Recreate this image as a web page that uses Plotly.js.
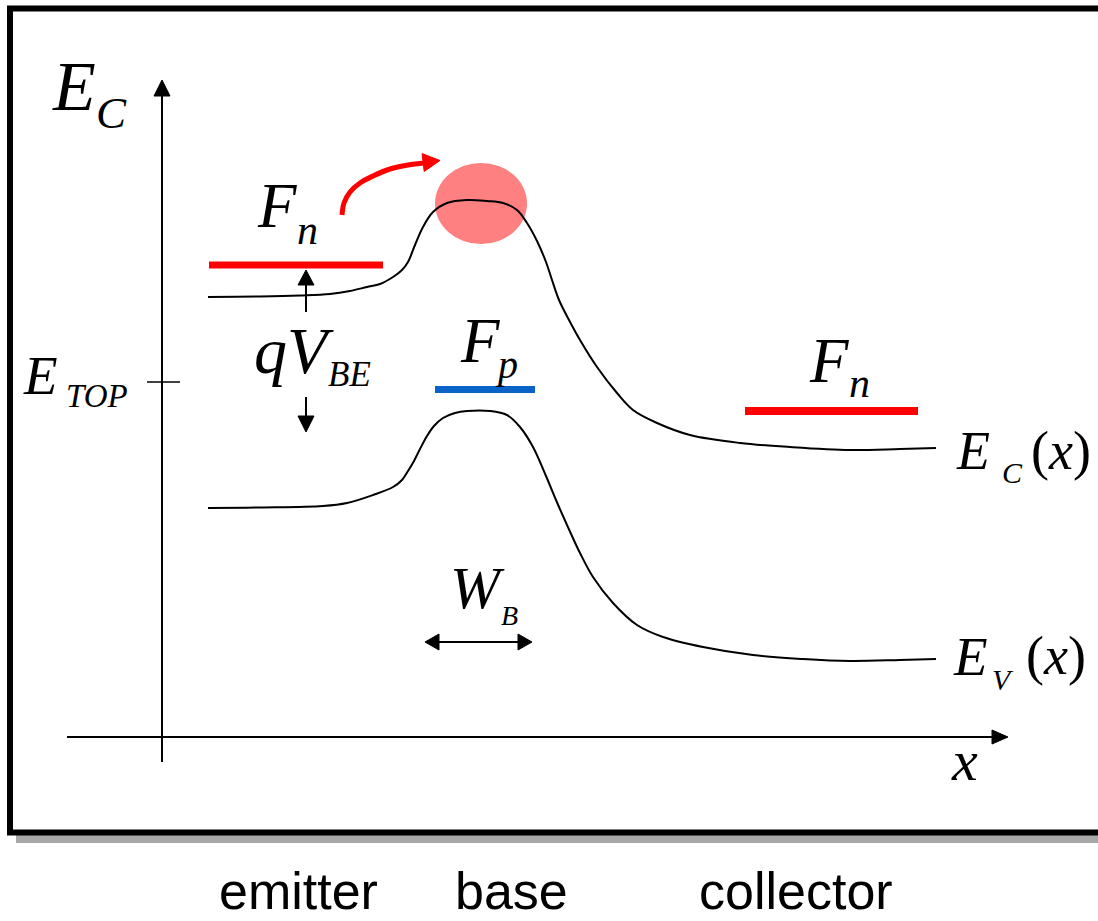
<!DOCTYPE html>
<html>
<head>
<meta charset="utf-8">
<script src="https://cdn.plot.ly/plotly-3.0.1.min.js"></script>
<style>html,body{margin:0;padding:0;background:#fff;}#chart{width:1098px;height:921px;}</style>
</head>
<body>
<div id="chart"></div>
<script>
// ---- Data (diagram coordinates, y grows downward) ----
const ecX = [208,260,300,330,350,367,380,393,402,408,415,423,433,447,467,487,503,517,527,537,546,552,559,569,580,597,617,633,657,690,740,790,850,900,936];
const ecY = [297,296.5,295.5,294,291,287,284,277,270,262,245,227,212,203,200,201,203,210,223,241,262,280,300,320,340,367,393,410,423,435,443,447,450,449,448];
const evX = [208,260,323,347,373,393,402,408,414,420,427,434,443,455,467,490,507,520,533,546,556,563,572,580,593,613,637,663,703,753,803,850,900,936];
const evY = [508,507.5,506,503,495,487,480,471,461,449,436,426,418,413,411,411,415,427,447,476,500,516,536,553,577,603,625,637,647,655,659,661,660,659];
const fnLeftX = [209,383], fnLeftY = [265,265];
const fpX = [435,535], fpY = [389.5,389.5];
const fnRightX = [745,918], fnRightY = [411,411];
const arcX = [342,344,350,360,373,390,408,425];
const arcY = [215,203,192,183,176,169,165,163];
const regionLabels = ['emitter','base','collector'];
const regionX = [298,511,796];

// ---- helpers ----
function head(tx, ty, dx, dy, len, hw){
  const n = Math.hypot(dx,dy); dx/=n; dy/=n;
  const bx = tx-dx*len, by = ty-dy*len;
  const px = -dy, py = dx;
  return {x:[tx,bx+px*hw,bx-px*hw,tx], y:[ty,by+py*hw,by-py*hw,ty]};
}
const traces = [];
function line(x,y,color,width,shape){
  traces.push({type:'scatter',mode:'lines',x:x,y:y,hoverinfo:'skip',
    line:{color:color,width:width,shape:shape||'linear',smoothing:1}});
}
function tri(h,color){
  traces.push({type:'scatter',mode:'lines',x:h.x,y:h.y,fill:'toself',fillcolor:color,
    hoverinfo:'skip',line:{color:color,width:1}});
}

// axes
line([162,162],[762,94],'#000',2);
tri(head(162,80,0,-1,16,8),'#000');
line([67,994],[737,737],'#000',2);
tri(head(1008,737,1,0,16,7),'#000');
line([147,180],[382,382],'#000',1.5);

// band edges
line(ecX,ecY,'#000',2,'spline');
line(evX,evY,'#000',2,'spline');

// quasi-Fermi levels
line(fnLeftX,fnLeftY,'#FF0000',7);
line(fpX,fpY,'#0A64C8',7);
line(fnRightX,fnRightY,'#FF0000',8);

// qV_BE arrows
line([306,306],[312,283],'#000',2);
tri(head(306,270,0,-1,15,8),'#000');
line([306,306],[397,418],'#000',2);
tri(head(306,432,0,1,16,8),'#000');

// W_B double arrow
line([437,520],[642,642],'#000',2);
tri(head(425,642,-1,0,14,8),'#000');
tri(head(532,642,1,0,14,8),'#000');

// red injection arc
line(arcX,arcY,'#FF0000',5,'spline');
tri(head(440,160.5,1,-0.12,17,9),'#FF0000');

// ---- text ----
const serif = 'Liberation Serif';
const ann = [];
function t(txt,x,y,size,family,xa){
  ann.push({text:txt,x:x,y:y,xref:'x',yref:'y',showarrow:false,xanchor:xa||'center',yanchor:'middle',
    borderpad:0,borderwidth:0,font:{family:family||serif,size:size,color:'#000'}});
}
t('<i>E</i>',74,86,70);
t('<i>C</i>',111,113,45);
t('<i>E</i>',40,375,55);
t('<i>TOP</i>',97,396,33);
t('<i>F</i>',277,206,63);
t('<i>n</i>',307,230,42);
t('<i>qV</i>',294,350,66);
t('<i>BE</i>',349,374,35);
t('<i>F</i>',480,341,63);
t('<i>p</i>',506,364,40);
t('<i>F</i>',829,361,63);
t('<i>n</i>',859,383,42);
t('<i>W</i>',477,588,60);
t('<i>B</i>',509,615,28);
t('<i>E</i>',973,451,54);
t('<i>C</i>',1012,472,30);
t('(<i>x</i>)',1061,451,54);
t('<i>E</i>',970,656,55);
t('<i>V</i>',1003,679,30);
t('(<i>x</i>)',1056,656,54);
t('<i>x</i>',964,760,58);
regionLabels.forEach((s,i)=>t(s,regionX[i],891,52,'Liberation Sans'));

const shapes = [
  {type:'rect',xref:'x',yref:'y',x0:16,x1:1250,y0:14,y1:843,fillcolor:'#a8a8a8',line:{width:0},layer:'below'},
  {type:'rect',xref:'x',yref:'y',x0:10,x1:1200,y0:8.5,y1:832.5,fillcolor:'#ffffff',line:{color:'#000',width:6},layer:'below'},
  {type:'circle',xref:'x',yref:'y',x0:435,x1:527,y0:163,y1:244,fillcolor:'#FF8080',line:{width:0},layer:'below'}
];

const layout = {
  width:1098,height:921,margin:{l:0,r:0,t:0,b:0},
  paper_bgcolor:'#fff',plot_bgcolor:'rgba(0,0,0,0)',showlegend:false,
  xaxis:{range:[0,1098],visible:false,fixedrange:true},
  yaxis:{range:[921,0],visible:false,fixedrange:true},
  shapes:shapes,annotations:ann
};
Plotly.newPlot('chart',traces,layout,{staticPlot:true,displayModeBar:false});
</script>
</body>
</html>
